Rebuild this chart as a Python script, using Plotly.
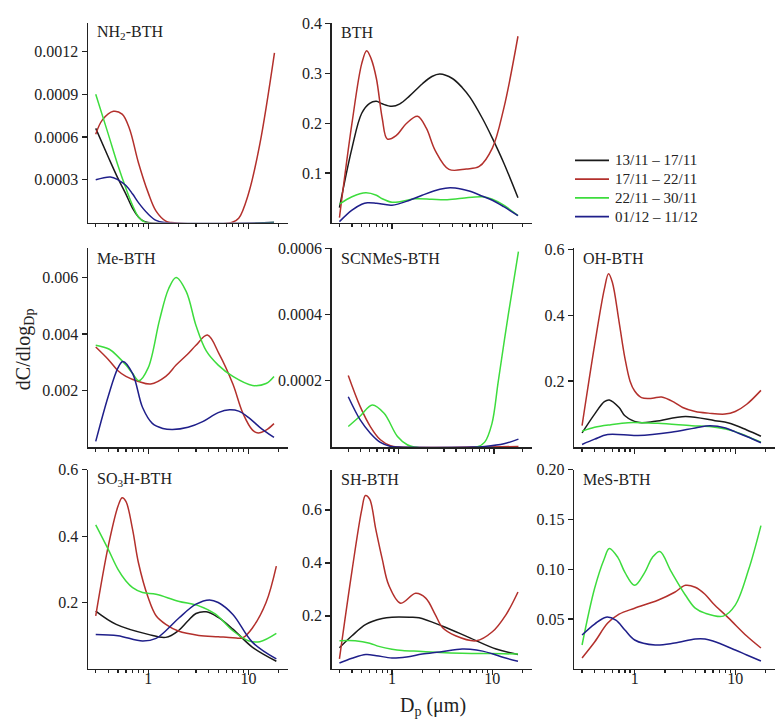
import plotly.graph_objects as go

W, H = 780, 722
FONT = "Liberation Serif"

SERIES = ["13/11 – 17/11", "17/11 – 22/11", "22/11 – 30/11", "01/12 – 11/12"]
COLORS = ["#1a1a1a", "#b3302c", "#3ddc3d", "#1f1f8a"]

# ---------------- NH2-BTH ----------------
nh2_k_x = [0.3, 0.4, 0.5, 0.6, 0.7, 0.8, 0.9, 1.0, 18]
nh2_k_y = [0.00066, 0.00046, 0.00031, 0.0002, 0.0001, 0.00004, 0.00001, 0, 0]
nh2_r_x = [0.3, 0.35, 0.45, 0.55, 0.65, 0.8, 1.0, 1.2, 1.5, 1.7, 6.8, 8, 10, 13, 18.2]
nh2_r_y = [0.00062, 0.00072, 0.00078, 0.00076, 0.00066, 0.00042, 0.00021, 0.00008, 0.00001, 0, 0, 0.00003, 0.0002, 0.00055, 0.00119]
nh2_g_x = [0.3, 0.4, 0.5, 0.6, 0.7, 0.8, 0.95, 18]
nh2_g_y = [0.0009, 0.00062, 0.0004, 0.00024, 0.00012, 0.00004, 0, 0]
nh2_b_x = [0.3, 0.42, 0.5, 0.6, 0.7, 0.8, 1.0, 1.2, 1.45, 18]
nh2_b_y = [0.0003, 0.00032, 0.0003, 0.00026, 0.0002, 0.00014, 0.00006, 0.000015, 0, 0]

# ---------------- BTH ----------------
bth_k_x = [0.3, 0.4, 0.5, 0.6, 0.7, 0.8, 1.0, 1.2, 1.5, 2, 2.5, 3, 4, 5, 6, 8, 10, 13, 18]
bth_k_y = [0.03, 0.15, 0.22, 0.24, 0.244, 0.239, 0.234, 0.239, 0.255, 0.279, 0.294, 0.299, 0.29, 0.272, 0.252, 0.209, 0.17, 0.12, 0.05]
bth_r_x = [0.3, 0.4, 0.5, 0.56, 0.62, 0.7, 0.8, 0.9, 1.1, 1.4, 1.8, 2.2, 2.7, 3.7, 5.5, 7.4, 10, 13, 18]
bth_r_y = [0.01, 0.2, 0.32, 0.346, 0.33, 0.29, 0.21, 0.168, 0.175, 0.2, 0.214, 0.19, 0.145, 0.107, 0.108, 0.113, 0.15, 0.23, 0.375]
bth_g_x = [0.3, 0.4, 0.55, 0.7, 0.8, 1.0, 1.2, 1.7, 2.5, 3.4, 5, 7.9, 10, 13, 18]
bth_g_y = [0.037, 0.052, 0.06, 0.055, 0.048, 0.041, 0.042, 0.048, 0.047, 0.046, 0.049, 0.052, 0.047, 0.035, 0.014]
bth_b_x = [0.3, 0.4, 0.5, 0.57, 0.7, 1.0, 1.5, 2, 3, 3.8, 5, 6, 8, 10, 13, 18]
bth_b_y = [0.002, 0.025, 0.037, 0.04, 0.039, 0.035, 0.045, 0.055, 0.067, 0.07, 0.067, 0.063, 0.053, 0.045, 0.032, 0.014]

# ---------------- Me-BTH ----------------
me_r_x = [0.3, 0.4, 0.5, 0.6, 0.8, 1.06, 1.5, 1.9, 2.5, 3, 3.9, 5.1, 7, 8.8, 11, 12.5, 15, 18]
me_r_y = [0.00354, 0.0031, 0.0027, 0.0025, 0.00232, 0.00223, 0.0025, 0.0029, 0.0033, 0.0036, 0.00396, 0.0033, 0.00223, 0.0012, 0.0006, 0.0005, 0.0006, 0.00083]
me_g_x = [0.3, 0.41, 0.5, 0.6, 0.7, 0.81, 1.0, 1.3, 1.6, 1.9, 2.4, 3, 3.8, 5, 7, 11, 15, 18]
me_g_y = [0.0036, 0.00346, 0.0032, 0.0029, 0.0026, 0.00235, 0.0028, 0.0045, 0.0056, 0.006, 0.0055, 0.0043, 0.0034, 0.0029, 0.0025, 0.00218, 0.00225, 0.0025]
me_b_x = [0.3, 0.4, 0.5, 0.56, 0.7, 0.88, 1.1, 1.4, 1.75, 2.5, 3.5, 5, 6.5, 8, 10, 13, 18]
me_b_y = [0.0002, 0.0018, 0.0028, 0.00303, 0.0026, 0.0014, 0.00084, 0.00066, 0.00062, 0.0007, 0.0009, 0.00122, 0.00132, 0.00127, 0.00105, 0.0007, 0.00034]

# ---------------- SCNMeS-BTH ----------------
scn_r_x = [0.3, 0.4, 0.51, 0.65, 0.83, 1.0, 7, 18]
scn_r_y = [0.000216, 0.000122, 0.000062, 0.000022, 0.000004, 0, 0, 0.000002]
scn_g_x = [0.3, 0.4, 0.535, 0.71, 0.98, 1.24, 1.46, 6.6, 8, 9.5, 11.1, 14.1, 18]
scn_g_y = [0.000062, 0.000094, 0.000127, 0.000102, 0.000032, 0.000007, 0, 0, 0.000015, 0.00007, 0.0002, 0.0004, 0.00059]
scn_b_x = [0.3, 0.4, 0.51, 0.65, 0.83, 1.0, 6, 8, 12.7, 18]
scn_b_y = [0.000152, 0.000082, 0.000042, 0.000014, 0.000002, 0, 0, 0.000002, 0.00001, 0.000024]

# ---------------- OH-BTH ----------------
oh_k_x = [0.3, 0.4, 0.5, 0.56, 0.7, 0.8, 1.08, 1.6, 3.2, 6.3, 8.6, 13, 18]
oh_k_y = [0.043, 0.1, 0.138, 0.143, 0.12, 0.095, 0.075, 0.078, 0.093, 0.08, 0.073, 0.052, 0.033]
oh_r_x = [0.3, 0.4, 0.5, 0.55, 0.6, 0.7, 0.8, 0.9, 1.0, 1.17, 1.5, 1.85, 2.5, 3, 4, 5.4, 7.9, 10, 13, 18]
oh_r_y = [0.065, 0.31, 0.48, 0.526, 0.5, 0.38, 0.27, 0.2, 0.17, 0.15, 0.148, 0.152, 0.135, 0.12, 0.108, 0.103, 0.1, 0.108, 0.13, 0.172]
oh_g_x = [0.3, 0.4, 0.58, 0.86, 1.7, 3.7, 5.8, 8, 10, 13, 18]
oh_g_y = [0.048, 0.06, 0.068, 0.074, 0.072, 0.065, 0.062, 0.055, 0.047, 0.033, 0.015]
oh_b_x = [0.3, 0.4, 0.54, 1.08, 2.3, 4, 5.6, 8, 10, 13, 18]
oh_b_y = [0.008, 0.024, 0.038, 0.035, 0.045, 0.058, 0.065, 0.058, 0.046, 0.032, 0.013]

# ---------------- SO3H-BTH ----------------
so3_k_x = [0.3, 0.48, 1.0, 1.5, 2, 2.5, 3, 3.8, 5, 7, 11, 19]
so3_k_y = [0.174, 0.134, 0.104, 0.095, 0.115, 0.145, 0.167, 0.172, 0.155, 0.12, 0.065, 0.023]
so3_r_x = [0.3, 0.4, 0.5, 0.55, 0.6, 0.7, 0.8, 1.0, 1.2, 1.5, 2, 3.2, 5, 7, 8.8, 11, 15, 19]
so3_r_y = [0.16, 0.37, 0.49, 0.516, 0.505, 0.42, 0.32, 0.215, 0.16, 0.134, 0.114, 0.101, 0.097, 0.094, 0.094, 0.124, 0.2, 0.31]
so3_g_x = [0.3, 0.4, 0.5, 0.6, 0.7, 0.88, 1.2, 2, 3.2, 4.7, 7, 10, 13, 19]
so3_g_y = [0.434, 0.36, 0.3, 0.265, 0.245, 0.23, 0.225, 0.204, 0.19, 0.165, 0.115, 0.085, 0.082, 0.107]
so3_b_x = [0.3, 0.5, 0.88, 1.2, 1.5, 2.04, 3, 4.1, 5, 7, 11, 19]
so3_b_y = [0.104, 0.1, 0.084, 0.092, 0.115, 0.154, 0.195, 0.208, 0.2, 0.164, 0.08, 0.03]

# ---------------- SH-BTH ----------------
sh_k_x = [0.3, 0.4, 0.55, 0.8, 1.0, 1.5, 1.86, 3.2, 5.9, 10.9, 18]
sh_k_y = [0.08, 0.125, 0.168, 0.19, 0.195, 0.195, 0.193, 0.161, 0.118, 0.075, 0.054]
sh_r_x = [0.3, 0.4, 0.5, 0.545, 0.6, 0.69, 0.8, 0.93, 1.22, 1.72, 2.17, 2.7, 3.2, 4.3, 6.9, 10, 13.7, 18]
sh_r_y = [0.038, 0.37, 0.6, 0.654, 0.64, 0.527, 0.415, 0.316, 0.248, 0.285, 0.267, 0.205, 0.155, 0.125, 0.106, 0.14, 0.205, 0.29]
sh_g_x = [0.3, 0.43, 0.6, 0.74, 1.0, 1.27, 2, 3, 5, 8, 13, 18]
sh_g_y = [0.106, 0.106, 0.097, 0.085, 0.074, 0.069, 0.066, 0.062, 0.059, 0.058, 0.057, 0.056]
sh_b_x = [0.3, 0.4, 0.55, 0.7, 1.0, 1.4, 2, 3, 5, 6, 8, 10, 13, 18]
sh_b_y = [0.022, 0.04, 0.054, 0.05, 0.041, 0.045, 0.056, 0.064, 0.075, 0.074, 0.067, 0.057, 0.043, 0.029]

# ---------------- MeS-BTH ----------------
mes_r_x = [0.3, 0.4, 0.54, 0.7, 1.0, 1.7, 2.5, 3.2, 4, 5, 6, 8.6, 13, 18]
mes_r_y = [0.011, 0.027, 0.046, 0.055, 0.061, 0.069, 0.077, 0.084, 0.082, 0.075, 0.066, 0.051, 0.033, 0.021]
mes_g_x = [0.3, 0.4, 0.5, 0.56, 0.68, 0.8, 1.0, 1.26, 1.5, 1.78, 2.3, 3.2, 4, 5, 7.6, 10, 13.6, 18]
mes_g_y = [0.024, 0.081, 0.111, 0.121, 0.112, 0.097, 0.084, 0.097, 0.112, 0.118, 0.098, 0.074, 0.061, 0.056, 0.053, 0.064, 0.1, 0.144]
mes_b_x = [0.3, 0.4, 0.52, 0.65, 0.8, 1.0, 1.6, 2.5, 4, 5, 6, 10, 13, 18]
mes_b_y = [0.034, 0.045, 0.052, 0.049, 0.039, 0.029, 0.024, 0.026, 0.03, 0.03, 0.028, 0.019, 0.014, 0.008]

# ---------------- axes ticks ----------------
X_MAJOR = [1, 10]
X_MINOR = [0.3, 0.4, 0.5, 0.6, 0.7, 0.8, 0.9, 2, 3, 4, 5, 6, 7, 8, 9, 20]

nh2_ticks = [0.0003, 0.0006, 0.0009, 0.0012]
nh2_labels = ["0.0003", "0.0006", "0.0009", "0.0012"]
bth_ticks = [0.1, 0.2, 0.3, 0.4]
bth_labels = ["0.1", "0.2", "0.3", "0.4"]
me_ticks = [0.002, 0.004, 0.006]
me_labels = ["0.002", "0.004", "0.006"]
scn_ticks = [0.0002, 0.0004, 0.0006]
scn_labels = ["0.0002", "0.0004", "0.0006"]
oh_ticks = [0.2, 0.4, 0.6]
oh_labels = ["0.2", "0.4", "0.6"]
so3_ticks = [0.2, 0.4, 0.6]
so3_labels = ["0.2", "0.4", "0.6"]
sh_ticks = [0.2, 0.4, 0.6]
sh_labels = ["0.2", "0.4", "0.6"]
mes_ticks = [0.05, 0.10, 0.15, 0.20]
mes_labels = ["0.05", "0.10", "0.15", "0.20"]

# layout geometry (pixels)
COL_X = [(88, 288), (331.7, 532), (574.3, 775)]
ROW_Y = [(15, 217), (243, 444), (467, 668.3)]
LEGEND_ROWS = [154, 173, 192, 211]

panels = [
    dict(title="NH<sub>2</sub>-BTH", r=0, c=0, yr=[0, 0.0014], yt=nh2_ticks, yl=nh2_labels,
         s=[(0, nh2_k_x, nh2_k_y), (1, nh2_r_x, nh2_r_y), (2, nh2_g_x, nh2_g_y), (3, nh2_b_x, nh2_b_y)]),
    dict(title="BTH", r=0, c=1, yr=[0, 0.402], yt=bth_ticks, yl=bth_labels,
         s=[(0, bth_k_x, bth_k_y), (1, bth_r_x, bth_r_y), (2, bth_g_x, bth_g_y), (3, bth_b_x, bth_b_y)]),
    dict(title="Me-BTH", r=1, c=0, yr=[0, 0.00703], yt=me_ticks, yl=me_labels,
         s=[(1, me_r_x, me_r_y), (2, me_g_x, me_g_y), (3, me_b_x, me_b_y)]),
    dict(title="SCNMeS-BTH", r=1, c=1, yr=[0, 0.0006], yt=scn_ticks, yl=scn_labels, xr=[-0.696, 1.397],
         s=[(1, scn_r_x, scn_r_y), (2, scn_g_x, scn_g_y), (3, scn_b_x, scn_b_y)]),
    dict(title="OH-BTH", r=1, c=2, yr=[0, 0.603], yt=oh_ticks, yl=oh_labels,
         s=[(0, oh_k_x, oh_k_y), (1, oh_r_x, oh_r_y), (2, oh_g_x, oh_g_y), (3, oh_b_x, oh_b_y)]),
    dict(title="SO<sub>3</sub>H-BTH", r=2, c=0, yr=[0, 0.6], yt=so3_ticks, yl=so3_labels,
         s=[(0, so3_k_x, so3_k_y), (1, so3_r_x, so3_r_y), (2, so3_g_x, so3_g_y), (3, so3_b_x, so3_b_y)]),
    dict(title="SH-BTH", r=2, c=1, yr=[0, 0.751], yt=sh_ticks, yl=sh_labels,
         s=[(0, sh_k_x, sh_k_y), (1, sh_r_x, sh_r_y), (2, sh_g_x, sh_g_y), (3, sh_b_x, sh_b_y)]),
    dict(title="MeS-BTH", r=2, c=2, yr=[0, 0.2], yt=mes_ticks, yl=mes_labels,
         s=[(1, mes_r_x, mes_r_y), (2, mes_g_x, mes_g_y), (3, mes_b_x, mes_b_y)]),
]

fig = go.Figure()
layout = dict(
    width=W, height=H, margin=dict(l=0, r=0, t=0, b=0),
    paper_bgcolor="white", plot_bgcolor="white",
    font=dict(family=FONT, size=16, color="#222"),
    showlegend=False,
)
annotations = []
shapes = []
AX = "#222"

for i, p in enumerate(panels):
    n = i + 1
    xs = "x" if n == 1 else f"x{n}"
    ys = "y" if n == 1 else f"y{n}"
    x0, x1 = COL_X[p["c"]]
    y0, y1 = ROW_Y[p["r"]]
    bottom = p["r"] == 2
    layout["xaxis" if n == 1 else f"xaxis{n}"] = dict(
        type="log", domain=[x0 / W, x1 / W], range=p.get("xr", [-0.6, 1.395]), anchor=ys,
        showline=True, linecolor=AX, linewidth=1.5, showgrid=False, zeroline=False,
        ticks="outside", tickmode="array", tickvals=X_MAJOR,
        ticktext=["1", "10"], showticklabels=bottom, ticklabelstandoff=-11,
        ticklen=5, tickwidth=1.3, tickcolor=AX,
        tickfont=dict(family=FONT, size=16, color="#222"),
        minor=dict(tickmode="array", tickvals=X_MINOR, ticks="outside", ticklen=3,
                   tickwidth=1.2, tickcolor=AX, showgrid=False),
        layer="below traces",
    )
    layout["yaxis" if n == 1 else f"yaxis{n}"] = dict(
        domain=[1 - y1 / H, 1 - y0 / H], range=p["yr"], anchor=xs,
        showline=True, linecolor=AX, linewidth=1.5, showgrid=False, zeroline=False,
        ticks="outside", tickmode="array", tickvals=p["yt"], ticktext=p["yl"],
        ticklen=5, tickwidth=1.3, tickcolor=AX,
        tickfont=dict(family=FONT, size=16, color="#222"),
        layer="below traces",
    )
    for k, sx, sy in p["s"]:
        fig.add_trace(go.Scatter(
            x=sx, y=sy, mode="lines", xaxis=xs, yaxis=ys,
            line=dict(color=COLORS[k], width=1.5, shape="spline", smoothing=1.0),
            name=SERIES[k], hoverinfo="skip",
        ))
    annotations.append(dict(
        text=p["title"], xref="paper", yref="paper", x=(x0 + 7) / W, y=1 - (y0 + 10) / H,
        xanchor="left", yanchor="middle", showarrow=False,
        font=dict(family=FONT, size=16, color="#222"),
    ))

# legend (drawn as key lines + labels in the empty top-right cell)
for k, name in enumerate(SERIES):
    ly = 1 - LEGEND_ROWS[k] / H
    shapes.append(dict(type="line", xref="paper", yref="paper", x0=575 / W, x1=609 / W,
                       y0=ly, y1=ly, line=dict(color=COLORS[k], width=1.8)))
    annotations.append(dict(
        text=name, xref="paper", yref="paper", x=613 / W, y=ly,
        xanchor="left", yanchor="middle", showarrow=False,
        font=dict(family=FONT, size=15, color="#222"),
    ))

annotations.append(dict(
    text="dC/dlog<sub>Dp</sub>", xref="paper", yref="paper", x=24 / W, y=1 - 345 / H,
    xanchor="center", yanchor="middle", textangle=-90, showarrow=False,
    font=dict(family=FONT, size=20, color="#222"),
))
annotations.append(dict(
    text="D<sub>p</sub> (μm)", xref="paper", yref="paper", x=433 / W, y=1 - 706 / H,
    xanchor="center", yanchor="middle", showarrow=False,
    font=dict(family=FONT, size=20, color="#222"),
))
layout["annotations"] = annotations
layout["shapes"] = shapes
fig.update_layout(**layout)
fig.write_html("out.html", config={"displayModeBar": False, "staticPlot": True},
               post_script="document.body.style.margin='0px';")
